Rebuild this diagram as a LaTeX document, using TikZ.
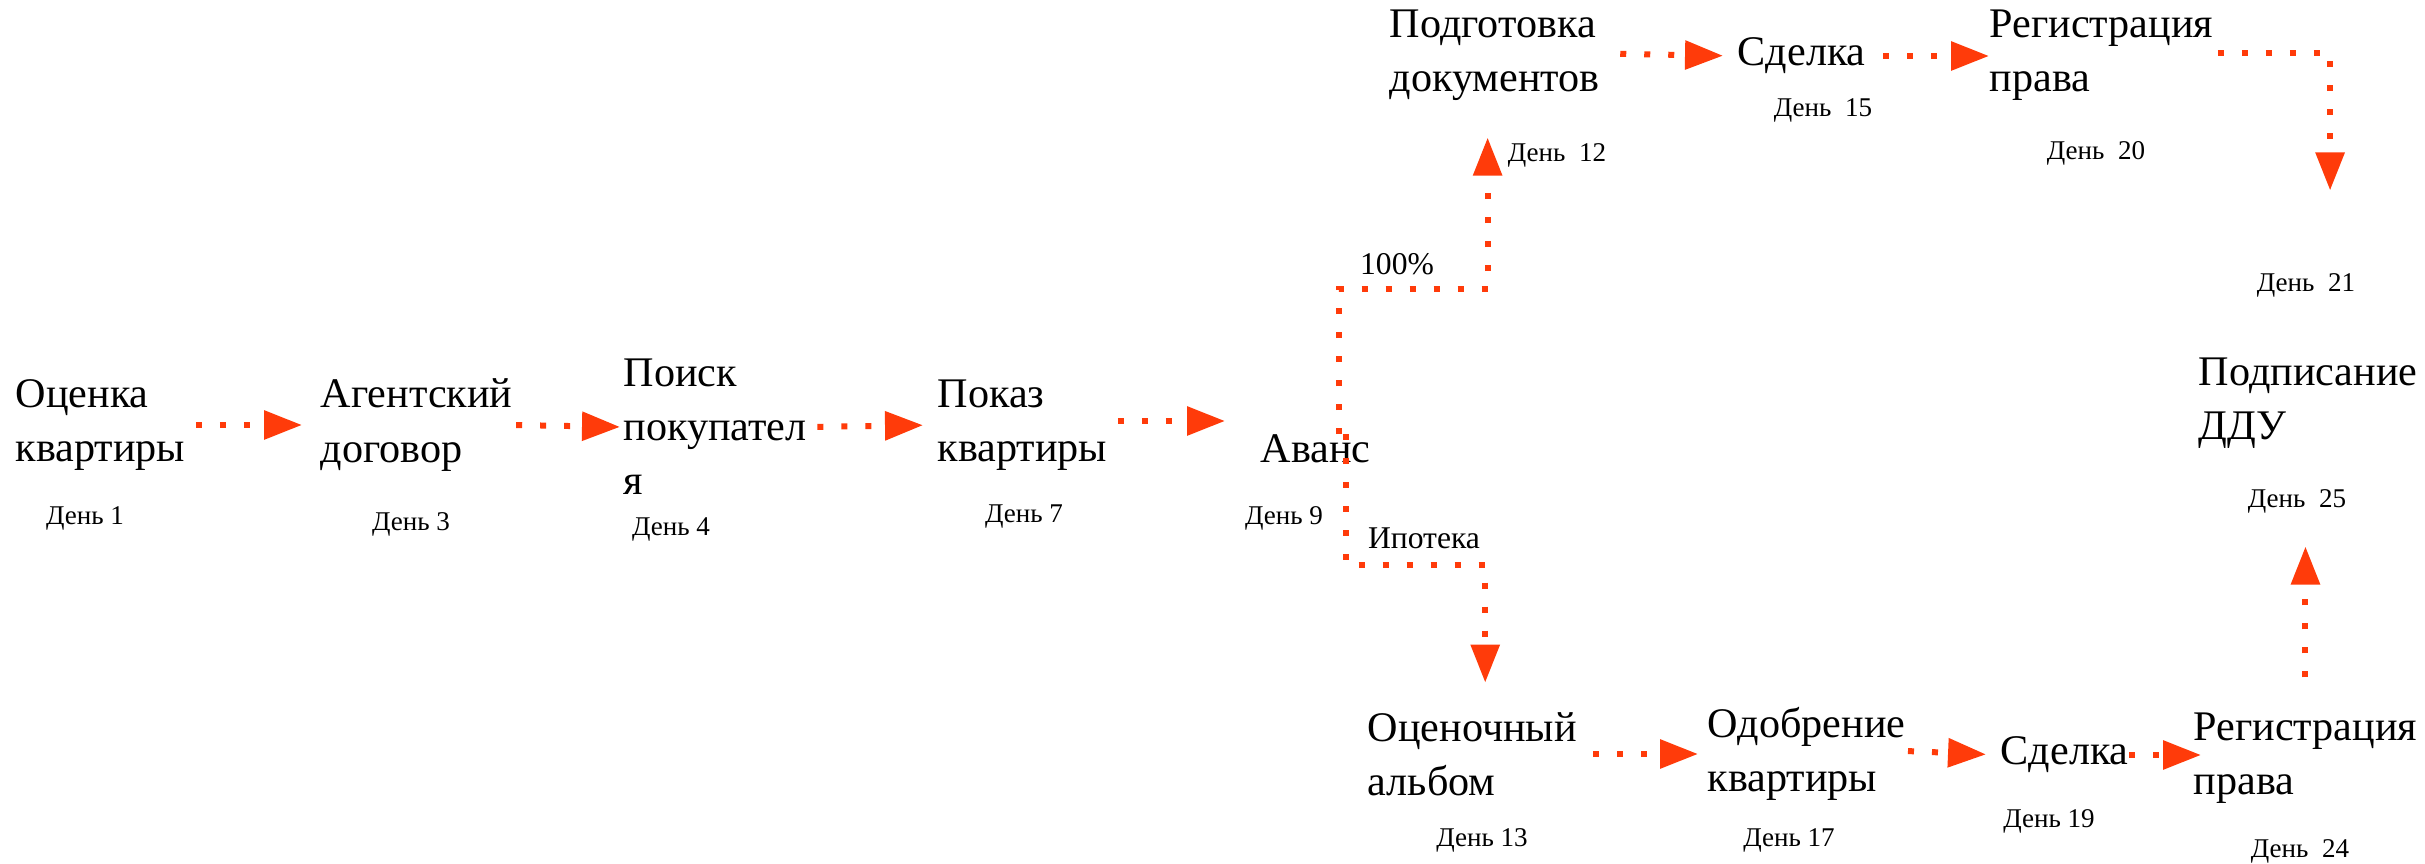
\documentclass[tikz,border=0pt]{standalone}
\usepackage{fontspec}
\setmainfont{Liberation Serif}
\usepackage{tikz}
\usetikzlibrary{positioning,calc,arrows.meta}
\definecolor{flowred}{RGB}{255,59,10}
\tikzset{stage/.style={inner sep=0pt, anchor=west, align=left, font=\fontsize{12}{15.4}\selectfont}}
\tikzset{daylbl/.style={inner sep=0pt, font=\fontsize{7.7}{9}\selectfont}}
\tikzset{branchlbl/.style={inner sep=0pt, font=\fontsize{9}{11}\selectfont}}
\tikzset{flow/.style={draw=flowred, line width=0.06cm, dash pattern=on 0.06cm off 0.18cm,
		-{Triangle[length=0.38cm, width=0.28cm, fill=flowred]}, shorten <=0.1cm, shorten >=0.1cm}}

\begin{document}
\begin{tikzpicture}
	\useasboundingbox (0,0) rectangle (24.25,-8.64);

	% main row
	\node[stage] (ocenka) at (0.15, -4.25) {Оценка\\квартиры};
	\node[stage] (agent) at (3.20, -4.25) {Агентский\\договор};
	\node[stage] (poisk) at (6.23, -4.27) {Поиск\\покупател\\я};
	\node[stage] (pokaz) at (9.37, -4.25) {Показ\\квартиры};
	\node[stage] (avans) at (12.60, -4.49) {Аванс};

	% 100% branch
	\node[stage] (podgot) at (13.89, -0.555) {Подготовка\\документов};
	\node[stage] (sdelkaA) at (17.37, -0.56) {Сделка};
	\node[stage] (regA) at (19.89, -0.555) {Регистрация\\права};
	\node[stage] (podpis) at (21.98, -4.035) {Подписание\\ДДУ};

	% mortgage branch
	\node[stage] (ocalb) at (13.67, -7.54) {Оценочный\\альбом};
	\node[stage] (odobr) at (17.07, -7.54) {Одобрение\\квартиры};
	\node[stage] (sdelkaB) at (20.00, -7.55) {Сделка};
	\node[stage] (regB) at (21.93, -7.585) {Регистрация\\права};

	% days
	\node[daylbl] (d1) at (0.85, -5.18) {День 1};
	\node[daylbl] (d3) at (4.11, -5.24) {День 3};
	\node[daylbl] (d4) at (6.71, -5.29) {День 4};
	\node[daylbl] (d7) at (10.24, -5.17) {День 7};
	\node[daylbl] (d9) at (12.84, -5.18) {День 9};
	\node[daylbl] (d12) at (15.57, -1.55) {День\ \ 12};
	\node[daylbl] (d15) at (18.23, -1.10) {День\ \ 15};
	\node[daylbl] (d20) at (20.96, -1.53) {День\ \ 20};
	\node[daylbl] (d21) at (23.06, -2.85) {День\ \ 21};
	\node[daylbl] (d25) at (22.97, -5.01) {День\ \ 25};
	\node[daylbl] (d13) at (14.82, -8.40) {День 13};
	\node[daylbl] (d17) at (17.89, -8.40) {День 17};
	\node[daylbl] (d19) at (20.49, -8.21) {День 19};
	\node[daylbl] (d24) at (23.00, -8.51) {День\ \ 24};

	\node[branchlbl] (full) at (13.97, -2.64) {100\%};
	\node[branchlbl] (ipoteka) at (14.24, -5.38) {Ипотека};

	\draw[flow, shorten >=0.18cm] (ocenka.east) -- (agent.west);
	\draw[flow, shorten <=0.03cm, shorten >=0.03cm] (agent.east) -- (poisk.west);
	\draw[flow, shorten >=0.14cm] (poisk.east) -- (pokaz.west);
	\draw[flow, shorten >=0.35cm] ([yshift=0.04cm]pokaz.east) -- ([yshift=0.04cm]pokaz.east -| avans.west);

	\draw[flow, shorten <=0.2cm, shorten >=0.14cm] ([yshift=0.02cm]podgot.east) -- (sdelkaA.west);
	\draw[flow, shorten <=0.17cm, shorten >=0cm] (sdelkaA.east) -- (sdelkaA.east -| regA.west);
	\draw[flow, shorten <=0.04cm, shorten >=1.67cm] ([yshift=0.02cm]regA.east) -| ([xshift=0.22cm]podpis.north);

	\draw[flow, shorten <=0cm, shorten >=0.36cm] ([xshift=0.23cm]avans.north) -- ++(0,1.45) -| ([xshift=-0.07cm]podgot.south);
	\draw[flow, shorten <=0cm, shorten >=0.29cm] ([xshift=0.30cm]avans.north) -- ++(0,-1.31) -| ([xshift=0.13cm]ocalb.north);

	\draw[flow, shorten <=0.16cm, shorten >=0.09cm] (ocalb.east) -- (ocalb.east -| odobr.west);
	\draw[flow, shorten <=0.02cm, shorten >=0.14cm] ([yshift=0.03cm]odobr.east) -- (sdelkaB.west);
	\draw[flow, shorten <=0cm, shorten >=-0.08cm] (sdelkaB.east) -- (sdelkaB.east -| regB.west);
	\draw[flow, shorten <=0.35cm, shorten >=0.97cm] (regB.north) -- (regB.north |- podpis.south);
\end{tikzpicture}
\end{document}
